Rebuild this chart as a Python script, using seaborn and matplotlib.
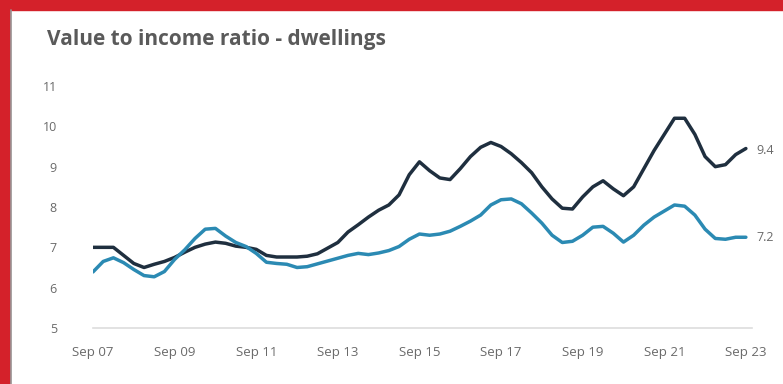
import numpy as np
import pandas as pd
import matplotlib
matplotlib.use("Agg")
import matplotlib.pyplot as plt
from matplotlib.patches import Rectangle
from matplotlib.lines import Line2D
import seaborn as sns

# ---- data (quarterly, Sep 2007 .. Sep 2023) ----
quarter_index = list(range(65))
series_dark = [7.0, 7.0, 7.0, 6.8, 6.6, 6.5, 6.58, 6.65, 6.75, 6.88,
               7.0, 7.08, 7.13, 7.1, 7.03, 7.0, 6.95, 6.8, 6.76, 6.76,
               6.76, 6.78, 6.84, 6.98, 7.12, 7.38, 7.56, 7.75, 7.92, 8.05,
               8.3, 8.8, 9.12, 8.9, 8.72, 8.68, 8.95, 9.25, 9.48, 9.6,
               9.5, 9.32, 9.1, 8.85, 8.5, 8.2, 7.97, 7.95, 8.25, 8.5,
               8.65, 8.45, 8.28, 8.5, 8.95, 9.4, 9.8, 10.2, 10.2, 9.8,
               9.25, 9.0, 9.05, 9.3, 9.45]
series_blue = [6.39, 6.65, 6.74, 6.62, 6.45, 6.3, 6.27, 6.4, 6.7, 6.94,
               7.22, 7.45, 7.47, 7.28, 7.12, 7.02, 6.85, 6.63, 6.6, 6.58,
               6.5, 6.52, 6.59, 6.66, 6.73, 6.8, 6.85, 6.82, 6.86, 6.92,
               7.02, 7.2, 7.33, 7.3, 7.33, 7.4, 7.52, 7.65, 7.8, 8.05,
               8.18, 8.2, 8.08, 7.85, 7.6, 7.3, 7.12, 7.15, 7.3, 7.5,
               7.52, 7.35, 7.13, 7.3, 7.55, 7.75, 7.9, 8.05, 8.02, 7.8,
               7.45, 7.22, 7.2, 7.25, 7.25]
tick_positions = [0, 8, 16, 24, 32, 40, 48, 56, 64]
tick_labels = ["Sep 07", "Sep 09", "Sep 11", "Sep 13", "Sep 15",
               "Sep 17", "Sep 19", "Sep 21", "Sep 23"]
y_ticks = [5, 6, 7, 8, 9, 10, 11]
end_labels = ["9.4", "7.2"]

df = pd.DataFrame({
    "q": quarter_index * 2,
    "value": series_dark + series_blue,
    "series": ["dark"] * 65 + ["blue"] * 65,
})

sns.set_theme(style="white")
plt.rcParams["font.family"] = ["Open Sans", "DejaVu Sans"]

W, H = 783, 384
fig = plt.figure(figsize=(W / 100, H / 100), dpi=100)
fig.patch.set_facecolor("white")

# red frame strips + grey inner line
fig.add_artist(Rectangle((0, 1 - 10 / H), 1, 10 / H, transform=fig.transFigure,
                         color="#d4212a", zorder=5))
fig.add_artist(Rectangle((0, 0), 10 / W, 1, transform=fig.transFigure,
                         color="#d4212a", zorder=5))
fig.add_artist(Line2D([11 / W, 11 / W], [0, 1 - 10 / H], transform=fig.transFigure,
                      color="#9a9a9a", lw=1.2, zorder=5))

fig.text(47 / W, 1 - 40 / H, "Value to income ratio - dwellings",
         fontsize=15, fontweight="bold", color="#5a5a5a", va="center", ha="left")

left, right = 93, 752
bottom, top = 328, 86
ax = fig.add_axes([left / W, 1 - bottom / H, (right - left) / W, (bottom - top) / H])
ax.set_facecolor("white")

palette = {"dark": "#1f2f3f", "blue": "#2b8ab3"}
sns.lineplot(data=df, x="q", y="value", hue="series", palette=palette,
             linewidth=2.5, legend=False, ax=ax)

ax.set_xlim(0, 64.6)
ax.set_ylim(5, 11)
ax.set_xticks(tick_positions)
ax.set_xticklabels(tick_labels)
ax.set_yticks(y_ticks)
ax.set_yticklabels([str(v) for v in y_ticks])
ax.set_xlabel("")
ax.set_ylabel("")
for s in ["top", "right", "left"]:
    ax.spines[s].set_visible(False)
ax.spines["bottom"].set_color("#dddddd")
ax.spines["bottom"].set_linewidth(1.2)
ax.tick_params(axis="x", length=4, width=0.8, color="#cccccc", colors="#6a6a6a",
               labelsize=9.5, pad=11, direction="inout")
ax.tick_params(axis="y", length=0, colors="#6a6a6a", labelsize=9, pad=26)
for lbl in ax.get_xticklabels() + ax.get_yticklabels():
    lbl.set_color("#6a6a6a")

ax.text(65.0, series_dark[-1] - 0.05, end_labels[0], fontsize=9, color="#6a6a6a",
        va="center", ha="left", clip_on=False)
ax.text(65.0, series_blue[-1], end_labels[1], fontsize=9, color="#6a6a6a",
        va="center", ha="left", clip_on=False)

fig.savefig("out.png", dpi=100, facecolor="white")
